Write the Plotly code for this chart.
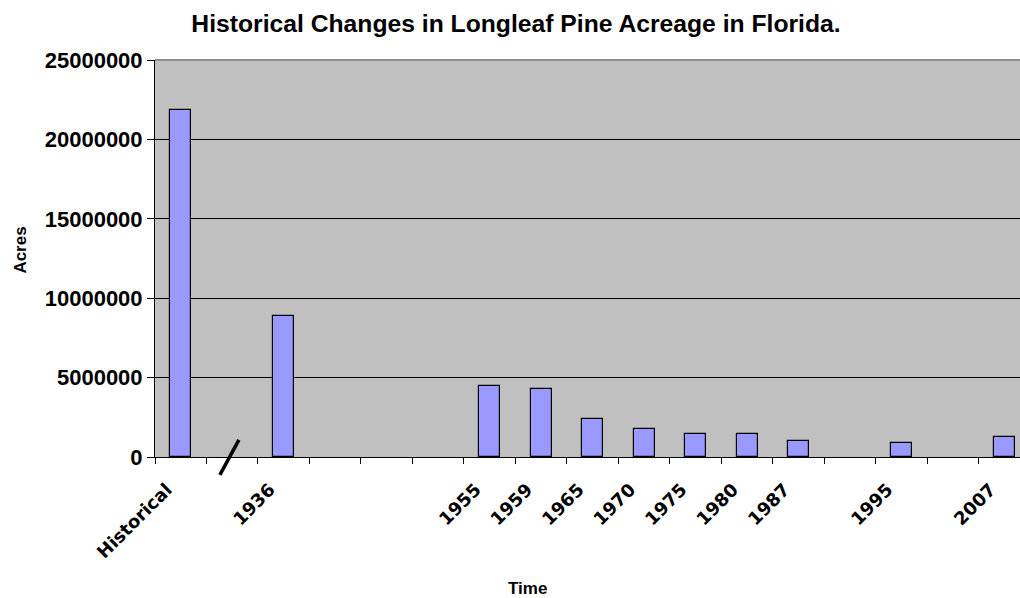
import plotly.graph_objects as go

# Data
labels = ["Historical", "", "1936", "", "", "", "1955", "1959", "1965", "1970",
          "1975", "1980", "1987", "", "1995", "", "2007"]
acres = [21850000, None, 8900000, None, None, None, 4450000, 4280000, 2370000,
         1780000, 1470000, 1470000, 1030000, None, 880000, None, 1280000]
positions = list(range(len(labels)))

fig = go.Figure()
fig.add_trace(go.Bar(
    x=positions, y=acres, width=0.41,
    marker=dict(color="#9999FF", line=dict(color="#000000", width=1.2)),
    showlegend=False, hoverinfo="skip",
))

tick_font = dict(family="DejaVu Sans", size=18, color="#000000", weight="bold")

fig.update_layout(
    width=1020, height=598,
    margin=dict(l=155, r=0, t=60, b=141, autoexpand=False),
    paper_bgcolor="#FFFFFF",
    plot_bgcolor="#C0C0C0",
    bargap=0,
    title=dict(text="<b>Historical Changes in Longleaf Pine Acreage in Florida.</b>",
               x=516 / 1020, xref="container", xanchor="center",
               y=1 - 23 / 598, yref="container", yanchor="middle",
               font=dict(family="Liberation Sans", size=24.7, color="#000000")),
    xaxis=dict(
        range=[-0.5, 16.3], automargin=False,
        tickmode="array", tickvals=positions, ticktext=labels,
        tickangle=-45, ticks="", showgrid=False, zeroline=False,
        showline=True, linecolor="#000000", linewidth=1,
        tickfont=tick_font, ticklabelstandoff=14, ticklabelshift=-14,
        minor=dict(tick0=-0.5, dtick=1, ticks="outside", ticklen=6,
                   tickcolor="#000000", tickwidth=1, showgrid=False),
    ),
    yaxis=dict(
        range=[0, 25000000], dtick=5000000, tickformat="d", automargin=False,
        showgrid=True, gridcolor="#000000", gridwidth=1,
        zeroline=False, showline=True, linecolor="#000000", linewidth=1,
        ticks="outside", ticklen=7, tickcolor="#000000",
        tickfont=dict(family="Liberation Sans", size=22, color="#000000", weight="bold"),
    ),
    shapes=[
        # top border of the plot area (light gray)
        dict(type="line", xref="paper", yref="paper", x0=0, x1=1, y0=1, y1=1,
             line=dict(color="#8F8F8F", width=2), layer="above"),
        # axis break mark
        dict(type="line", xref="x", yref="paper", x0=0.76, x1=1.13, y0=-0.045, y1=0.043,
             line=dict(color="#000000", width=3.5), layer="above"),
    ],
    annotations=[
        dict(text="<b>Acres</b>", xref="paper", yref="paper", x=-0.156, y=0.52,
             textangle=-90, showarrow=False, xanchor="center", yanchor="middle",
             font=dict(family="Liberation Sans", size=17, color="#000000")),
        dict(text="<b>Time</b>", xref="paper", yref="paper", x=(527.5 - 155) / 865,
             y=-(588 - 457) / 397,
             showarrow=False, xanchor="center", yanchor="middle",
             font=dict(family="Liberation Sans", size=17, color="#000000")),
    ],
)

fig.write_html("out.html", config={"displayModeBar": False},
               post_script="document.body.style.margin='0';")
